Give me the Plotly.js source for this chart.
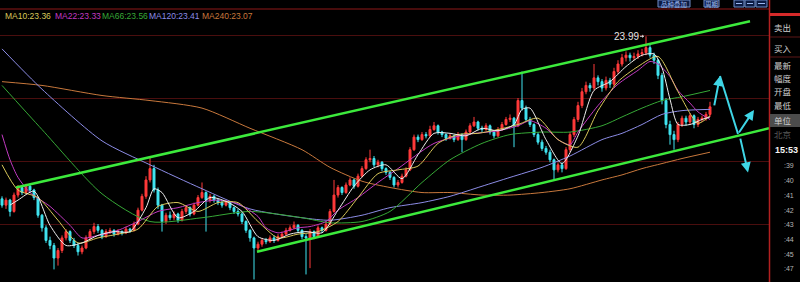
<!DOCTYPE html>
<html>
<head>
<meta charset="utf-8">
<script src="https://cdn.plot.ly/plotly-3.0.1.min.js"></script>
<style>
html,body{margin:0;padding:0;background:#000;overflow:hidden}
#chart{width:800px;height:282px}
</style>
</head>
<body>
<div id="chart"></div>
<script>
// ---- daily bars (oldest -> newest) ----
const open = [
22.70,22.65,22.69,22.60,22.73,22.79,22.75,22.80,22.77,22.71,
22.57,22.47,22.37,22.33,22.23,22.29,22.39,22.44,22.37,22.33,
22.28,22.31,22.39,22.44,22.48,22.45,22.40,22.44,22.45,22.42,
22.44,22.43,22.46,22.45,22.50,22.61,22.72,22.85,22.94,22.77,
22.65,22.52,22.57,22.55,22.58,22.53,22.60,22.63,22.58,22.65,
22.71,22.75,22.69,22.72,22.69,22.67,22.65,22.67,22.63,22.60,
22.58,22.52,22.45,22.39,22.31,22.34,22.37,22.36,22.39,22.37,
22.40,22.42,22.45,22.47,22.49,22.45,22.40,22.39,22.44,22.40,
22.47,22.45,22.50,22.60,22.73,22.79,22.75,22.81,22.85,22.80,
22.88,22.94,23.01,23.02,22.97,22.99,22.94,22.91,22.87,22.81,
22.83,22.88,22.93,23.09,23.19,23.17,23.21,23.20,23.25,23.28,
23.23,23.21,23.18,23.20,23.17,23.21,23.17,23.23,23.28,23.31,
23.26,23.25,23.28,23.23,23.20,23.25,23.29,23.33,23.34,23.28,
23.48,23.42,23.33,23.29,23.21,23.15,23.10,23.07,23.01,22.93,
22.97,22.94,23.09,23.21,23.33,23.44,23.55,23.60,23.58,23.66,
23.63,23.58,23.64,23.61,23.71,23.77,23.82,23.84,23.82,23.83,
23.85,23.86,23.90,23.84,23.80,23.68,23.48,23.29,23.21,23.17,
23.29,23.34,23.31,23.36,23.29,23.33,23.34,23.37];
const high = [
22.72,22.71,22.70,22.75,22.81,22.81,22.82,22.82,22.78,22.72,
22.58,22.49,22.40,22.35,22.31,22.41,22.46,22.45,22.39,22.35,
22.33,22.41,22.46,22.51,22.50,22.46,22.46,22.47,22.46,22.46,
22.45,22.48,22.47,22.52,22.63,22.74,22.88,23.03,22.97,22.79,
22.66,22.59,22.60,22.60,22.59,22.62,22.65,22.64,22.67,22.73,
22.83,22.76,22.74,22.73,22.70,22.69,22.69,22.68,22.64,22.62,
22.59,22.53,22.46,22.40,22.36,22.39,22.39,22.41,22.41,22.42,
22.44,22.47,22.49,22.52,22.50,22.46,22.42,22.46,22.45,22.49,
22.48,22.52,22.62,22.85,22.81,22.80,22.83,22.87,22.86,22.90,
22.96,23.03,23.09,23.04,23.01,23.00,22.95,22.92,22.88,22.85,
22.90,22.95,23.11,23.21,23.21,23.23,23.23,23.28,23.31,23.29,
23.24,23.22,23.22,23.21,23.23,23.22,23.25,23.30,23.35,23.32,
23.28,23.30,23.29,23.24,23.27,23.31,23.35,23.37,23.35,23.50,
23.71,23.44,23.35,23.30,23.23,23.17,23.12,23.09,23.02,22.99,
22.99,23.11,23.23,23.35,23.47,23.58,23.63,23.62,23.77,23.68,
23.65,23.67,23.66,23.74,23.80,23.85,23.87,23.86,23.86,23.88,
23.89,23.99,23.92,23.86,23.81,23.70,23.50,23.32,23.24,23.31,
23.36,23.36,23.38,23.37,23.35,23.36,23.39,23.47];
const low = [
22.63,22.62,22.56,22.59,22.71,22.73,22.74,22.75,22.69,22.55,
22.44,22.35,22.30,22.14,22.17,22.27,22.37,22.35,22.31,22.25,
22.26,22.30,22.37,22.42,22.43,22.38,22.39,22.42,22.40,22.41,
22.41,22.42,22.43,22.44,22.49,22.60,22.70,22.83,22.75,22.62,
22.44,22.50,22.53,22.53,22.51,22.52,22.58,22.56,22.57,22.64,
22.70,22.44,22.67,22.67,22.65,22.63,22.64,22.61,22.58,22.56,
22.50,22.43,22.36,22.06,22.28,22.32,22.34,22.35,22.35,22.36,
22.39,22.41,22.44,22.46,22.43,22.38,22.10,22.15,22.38,22.39,
22.43,22.44,22.49,22.59,22.71,22.73,22.74,22.80,22.78,22.79,
22.87,22.93,22.99,22.95,22.95,22.92,22.89,22.85,22.79,22.79,
22.82,22.87,22.92,23.08,23.15,23.16,23.18,23.19,23.24,23.21,
23.19,23.16,23.17,23.15,23.16,23.07,23.16,23.22,23.27,23.24,
23.23,23.24,23.21,23.18,23.19,23.24,23.28,23.31,23.11,23.27,
23.40,23.31,23.27,23.19,23.13,23.08,23.05,22.99,22.85,22.91,
22.91,22.93,23.07,23.19,23.31,23.42,23.53,23.55,23.56,23.60,
23.55,23.56,23.58,23.59,23.69,23.75,23.79,23.79,23.80,23.81,
23.83,23.84,23.82,23.77,23.65,23.45,23.26,23.13,23.09,23.15,
23.27,23.28,23.29,23.26,23.27,23.31,23.32,23.35];
const close = [
22.65,22.69,22.60,22.73,22.79,22.75,22.80,22.77,22.71,22.57,
22.47,22.37,22.33,22.23,22.29,22.39,22.44,22.37,22.33,22.28,
22.31,22.39,22.44,22.48,22.45,22.40,22.44,22.45,22.42,22.44,
22.43,22.46,22.45,22.50,22.61,22.72,22.85,22.94,22.77,22.65,
22.52,22.57,22.55,22.58,22.53,22.60,22.63,22.58,22.65,22.71,
22.75,22.69,22.72,22.69,22.67,22.65,22.67,22.63,22.60,22.58,
22.52,22.45,22.39,22.31,22.34,22.37,22.36,22.39,22.37,22.40,
22.42,22.45,22.47,22.49,22.45,22.40,22.39,22.44,22.40,22.47,
22.45,22.50,22.60,22.73,22.79,22.75,22.81,22.85,22.80,22.88,
22.94,23.01,23.02,22.97,22.99,22.94,22.91,22.87,22.81,22.83,
22.88,22.93,23.09,23.19,23.17,23.21,23.20,23.25,23.28,23.23,
23.21,23.18,23.20,23.17,23.21,23.17,23.23,23.28,23.31,23.26,
23.25,23.28,23.23,23.20,23.25,23.29,23.33,23.34,23.28,23.48,
23.42,23.33,23.29,23.21,23.15,23.10,23.07,23.01,22.93,22.97,
22.94,23.09,23.21,23.33,23.44,23.55,23.60,23.58,23.66,23.63,
23.58,23.64,23.61,23.71,23.77,23.82,23.84,23.82,23.83,23.85,
23.86,23.90,23.84,23.80,23.68,23.48,23.29,23.21,23.17,23.29,
23.34,23.31,23.36,23.29,23.33,23.34,23.37,23.43];

// ---- moving averages, sampled at bar numbers ----
const ma5Bars  = [2,4,8,12,16,20,24,28,32,36,38,40,44,48,52,56,60,64,68,72,76,80,84,88,92,96,100,104,108,112,116,120,124,128,130,132,136,140,144,148,152,156,160,163,165,167,169,172,175,177];
const ma5      = [22.65,22.69,22.76,22.49,22.33,22.35,22.41,22.44,22.44,22.63,22.78,22.75,22.55,22.60,22.71,22.68,22.60,22.40,22.37,22.42,22.44,22.43,22.61,22.80,22.93,22.97,22.86,23.05,23.22,23.22,23.20,23.26,23.24,23.29,23.41,23.42,23.17,22.98,23.20,23.56,23.63,23.75,23.84,23.85,23.74,23.49,23.29,23.29,23.33,23.35];
const ma10Bars = [0,4,9,14,19,24,29,34,39,44,49,54,59,64,69,74,79,84,89,94,99,104,109,114,119,124,129,134,139,144,149,154,159,164,169,174,177];
const ma10     = [22.97,22.77,22.71,22.53,22.35,22.39,22.42,22.46,22.64,22.67,22.60,22.67,22.67,22.52,22.39,22.42,22.44,22.52,22.71,22.90,22.93,22.96,23.14,23.21,23.22,23.25,23.29,23.34,23.17,23.11,23.40,23.63,23.75,23.83,23.55,23.30,23.36];
const ma22Bars = [0,2,4,7,12,17,20,24,29,34,39,44,49,54,59,64,66,69,74,77,81,84,89,94,99,108,116,124,129,132,136,139,142,144,149,154,159,162,164,167,169,172,174,177];
const ma22     = [23.21,23.01,22.87,22.75,22.64,22.49,22.39,22.41,22.45,22.52,22.60,22.63,22.67,22.69,22.66,22.56,22.47,22.43,22.47,22.48,22.52,22.61,22.71,22.83,22.94,23.14,23.21,23.24,23.28,23.32,23.26,23.17,23.13,23.23,23.44,23.61,23.72,23.79,23.77,23.67,23.56,23.46,23.39,23.33];
const slowBars = [0,10,25,37,50,62,75,82,90,97,105,112,120,127,135,142,150,155,160,165,170,177];
const ma66     = [23.60,23.25,22.74,22.52,22.55,22.60,22.55,22.51,22.52,22.60,22.83,23.01,23.14,23.21,23.23,23.23,23.28,23.35,23.42,23.48,23.51,23.56];
const ma120    = [23.89,23.57,23.16,22.97,22.78,22.62,22.55,22.53,22.57,22.63,22.67,22.72,22.80,22.87,22.95,23.04,23.17,23.22,23.29,23.37,23.40,23.41];
const ma240    = [23.63,23.60,23.52,23.48,23.42,23.26,23.09,22.95,22.84,22.79,22.75,22.75,22.73,22.73,22.75,22.78,22.85,22.89,22.94,22.98,23.02,23.07];

// legend readings
const maNames  = ['MA10','MA22','MA66','MA120','MA240'];
const maLast   = ['23.36','23.33','23.56','23.41','23.07'];

// ---- hand-drawn channel and projection (bar number, price) ----
const upperChannel = [[3.5, 22.79], [187, 24.11]];
const lowerChannel = [[63.75, 22.28], [191.75, 23.26]];
const projection   = [[178, 23.43], [179.5, 23.675], [184, 23.215], [188, 23.405]];
const projectionDown = [[184.5, 23.19], [186.5, 22.91]];
const peakBar = 161, peakPrice = 23.99;

// ---- side panel text ----
const panelLabels = ['卖出','买入','最新','幅度','开盘','最低','单位','北京'];
const clockText = '15:53';
const minuteLabels = [':39',':40',':41',':42',':43',':44',':45',':47'];

const bars = close.map((_, i) => i);
const maColors = ['#d9c85a','#c23ac2','#36a836','#8c8ce6','#c8783c'];

const PLOT_W = 769, PLOT_TOP = 9, PLOT_BOTTOM = 282;
const fx = px => px / PLOT_W;
const fy = py => (PLOT_BOTTOM - py) / (PLOT_BOTTOM - PLOT_TOP);

function maTrace(xs, ys, color) {
  return {type:'scatter', mode:'lines', x:xs, y:ys, hoverinfo:'skip',
          line:{color:color, width:1, shape:'spline', smoothing:0.7}};
}

const traces = [
  {type:'candlestick', x:bars, open:open, high:high, low:low, close:close,
   whiskerwidth:0, hoverinfo:'skip',
   increasing:{line:{color:'#ff3a3a', width:1}, fillcolor:'#ff3a3a'},
   decreasing:{line:{color:'#40e4f0', width:1}, fillcolor:'#40e4f0'}},
  maTrace(slowBars, ma240, maColors[4]),
  maTrace(slowBars, ma120, maColors[3]),
  maTrace(slowBars, ma66,  maColors[2]),
  maTrace(ma22Bars, ma22,  maColors[1]),
  maTrace(ma10Bars, ma10,  maColors[0]),
  maTrace(ma5Bars,  ma5,   '#eeeeee')
];

const shapes = [];
const annotations = [];

// channel lines
[upperChannel, lowerChannel].forEach(seg => shapes.push({
  type:'line', xref:'x', yref:'y', x0:seg[0][0], y0:seg[0][1], x1:seg[1][0], y1:seg[1][1],
  line:{color:'#3cea3c', width:2.5}
}));
// projection zigzag: middle leg as a plain line, other legs as arrows
shapes.push({type:'line', xref:'x', yref:'y',
  x0:projection[1][0], y0:projection[1][1], x1:projection[2][0], y1:projection[2][1],
  line:{color:'#3fd6e6', width:2}});
function arrow(from, to) {
  annotations.push({x:to[0], y:to[1], ax:from[0], ay:from[1], xref:'x', yref:'y',
    axref:'x', ayref:'y', text:'', showarrow:true, arrowhead:2, arrowsize:1,
    arrowwidth:2, arrowcolor:'#3fd6e6', standoff:0, startstandoff:0});
}
arrow(projection[0], projection[1]);
arrow(projection[2], projection[3]);
arrow(projectionDown[0], projectionDown[1]);

// peak marker
annotations.push({x:peakBar, y:peakPrice, xref:'x', yref:'y', text:peakPrice.toFixed(2),
  showarrow:true, ax:-20, ay:0, arrowhead:1, arrowsize:0.6, arrowwidth:1,
  arrowcolor:'#d8d8d8', standoff:2, font:{family:'Liberation Sans, Arial', size:10, color:'#e4e4e4'}});

// MA legend row
const legendX = [3, 53, 100, 147, 200];
maNames.forEach((n, k) => annotations.push({
  xref:'paper', yref:'paper', x:fx(legendX[k]), y:fy(15.5), xanchor:'left', yanchor:'middle',
  showarrow:false, text:n + ':' + maLast[k],
  font:{family:'Liberation Sans, Arial', size:8.5, color:maColors[k]}
}));

// frame lines
shapes.push({type:'line', xref:'paper', yref:'paper', x0:0, x1:1, y0:fy(9), y1:fy(9),
  line:{color:'#8e1818', width:1}});
shapes.push({type:'line', xref:'paper', yref:'paper', x0:fx(769.5), x1:fx(769.5), y0:fy(0), y1:fy(282),
  line:{color:'#b22020', width:1.5}});
shapes.push({type:'rect', xref:'paper', yref:'paper', x0:fx(770), x1:fx(800), y0:fy(16), y1:fy(13),
  line:{width:0}, fillcolor:'#d62a2a'});
[37, 57].forEach(py => shapes.push({type:'line', xref:'paper', yref:'paper',
  x0:fx(770), x1:fx(800), y0:fy(py), y1:fy(py), line:{color:'#5c1616', width:1}}));
shapes.push({type:'rect', xref:'paper', yref:'paper', x0:fx(770), x1:fx(800), y0:fy(127), y1:fy(114),
  line:{width:0}, fillcolor:'#4c4c4c'});

// top toolbar buttons
const toolBtns = [[658, 690, '品种叠加'], [704, 719, '周期']];
toolBtns.forEach(b => {
  shapes.push({type:'rect', xref:'paper', yref:'paper', x0:fx(b[0]), x1:fx(b[1]), y0:fy(7), y1:fy(0),
    line:{color:'#6f8cc8', width:1}, fillcolor:'#0c1c44'});
  annotations.push({xref:'paper', yref:'paper', x:fx((b[0]+b[1])/2), y:fy(3.5), xanchor:'center', yanchor:'middle',
    showarrow:false, text:b[2], font:{family:'Noto Sans CJK SC', size:6.5, color:'#9cb8f0'}});
});
[[734,744],[745,755],[756,767]].forEach(b => {
  shapes.push({type:'rect', xref:'paper', yref:'paper', x0:fx(b[0]), x1:fx(b[1]), y0:fy(7), y1:fy(0),
    line:{color:'#6f8cc8', width:1}, fillcolor:'#0c1c44'});
  shapes.push({type:'line', xref:'paper', yref:'paper', x0:fx(b[0]+2), x1:fx(b[1]-2), y0:fy(3.5), y1:fy(3.5),
    line:{color:'#9cb8f0', width:1}});
});

// side panel labels
const labelY = [27, 48, 65, 78, 91, 105, 120, 134];
panelLabels.forEach((t, k) => annotations.push({
  xref:'paper', yref:'paper', x:fx(772), y:fy(labelY[k]), xanchor:'left', yanchor:'middle',
  showarrow:false, text:t,
  font:{family:'Noto Sans CJK SC', size:8.5, color: k === 7 ? '#5a5a5a' : '#cfcfcf'}
}));
annotations.push({xref:'paper', yref:'paper', x:fx(773), y:fy(150), xanchor:'left', yanchor:'middle',
  showarrow:false, text:'<b>' + clockText + '</b>',
  font:{family:'Liberation Sans, Arial', size:9, color:'#f4f4f4'}});
const minuteY = [165, 180, 195, 210, 224, 239, 254, 268];
minuteLabels.forEach((t, k) => annotations.push({
  xref:'paper', yref:'paper', x:fx(796), y:fy(minuteY[k]), xanchor:'right', yanchor:'middle',
  showarrow:false, text:t, font:{family:'Liberation Sans, Arial', size:7, color:'#b4b4b4'}
}));

const layout = {
  width:800, height:282,
  margin:{l:0, r:31, t:9, b:0, pad:0},
  paper_bgcolor:'#000', plot_bgcolor:'#000',
  showlegend:false,
  xaxis:{range:[-0.5, 191.75], showgrid:false, zeroline:false, showticklabels:false,
         ticks:'', showline:false, rangeslider:{visible:false}, fixedrange:true},
  yaxis:{range:[22.04, 24.2066], tick0:0, dtick:0.5, showgrid:true, gridcolor:'#4a0e0e', gridwidth:1,
         zeroline:false, showticklabels:false, ticks:'', showline:false, fixedrange:true},
  shapes:shapes,
  annotations:annotations
};

Plotly.newPlot('chart', traces, layout, {staticPlot:true, displayModeBar:false});
</script>
</body>
</html>
